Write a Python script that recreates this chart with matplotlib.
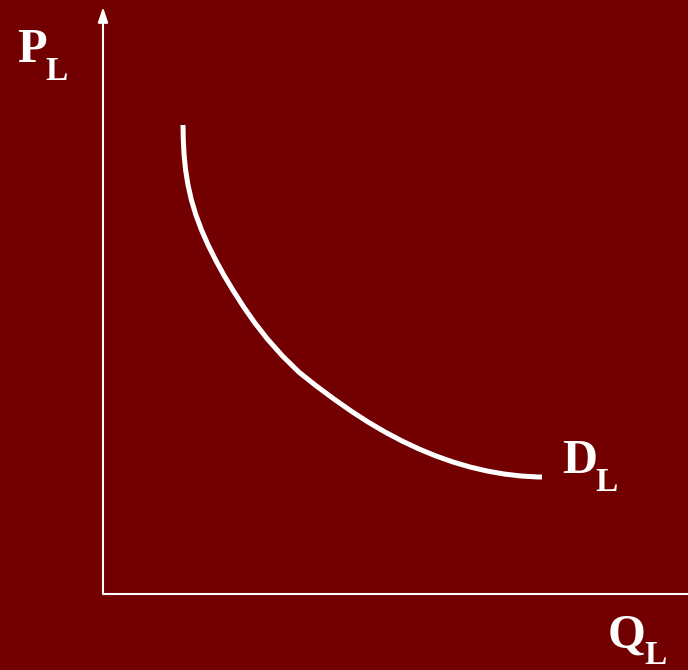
import matplotlib.pyplot as plt

# demand curve for labour (origin at the axes corner)
q_labour = [80, 80.3, 81.1, 82.6, 85, 88.4, 92.9, 98.5, 105.1, 112.6, 120.8,
            129.8, 140.7, 151.9, 164.4, 179.5, 196, 213, 230.5, 248, 265, 282,
            299, 316, 333, 350, 367, 384, 401, 418, 435, 439]
p_labour = [469, 454, 439, 424, 409, 394, 379, 364, 349, 334, 319,
            304, 287, 271, 255, 238, 221.8, 208.3, 195.3, 183, 172, 162,
            153, 145, 138, 132, 127, 123, 120, 118, 117, 117]

BG = "#730000"
FG = "white"

fig = plt.figure(figsize=(6.88, 6.70), dpi=100, facecolor=BG)
ax = fig.add_axes([0, 0, 1, 1])
ax.set_facecolor(BG)
ax.set_xlim(-103, 585)
ax.set_ylim(-76, 594)
ax.axis("off")

# axes of the diagram
ax.plot([0, 585], [0, 0], color=FG, lw=1.5, solid_capstyle="butt")
ax.annotate("", xy=(0, 587), xytext=(0, 0),
            arrowprops=dict(arrowstyle="-|>,head_length=0.9,head_width=0.3",
                            color=FG, lw=1.5, mutation_scale=10,
                            shrinkA=0, shrinkB=0))

ax.plot(q_labour, p_labour, color=FG, lw=3.6,
        solid_capstyle="butt", solid_joinstyle="round")

font = dict(family="Liberation Serif", weight="bold", color=FG, va="baseline")
ax.text(-86, 532, "P", fontsize=35, **font)
ax.text(-58, 514, "L", fontsize=24, **font)
ax.text(459, 121, "D", fontsize=35, **font)
ax.text(492, 103, "L", fontsize=24, **font)
ax.text(505, -54, "Q", fontsize=35, **font)
ax.text(541, -70, "L", fontsize=24, **font)

fig.savefig("out.png", dpi=100, facecolor=BG)
